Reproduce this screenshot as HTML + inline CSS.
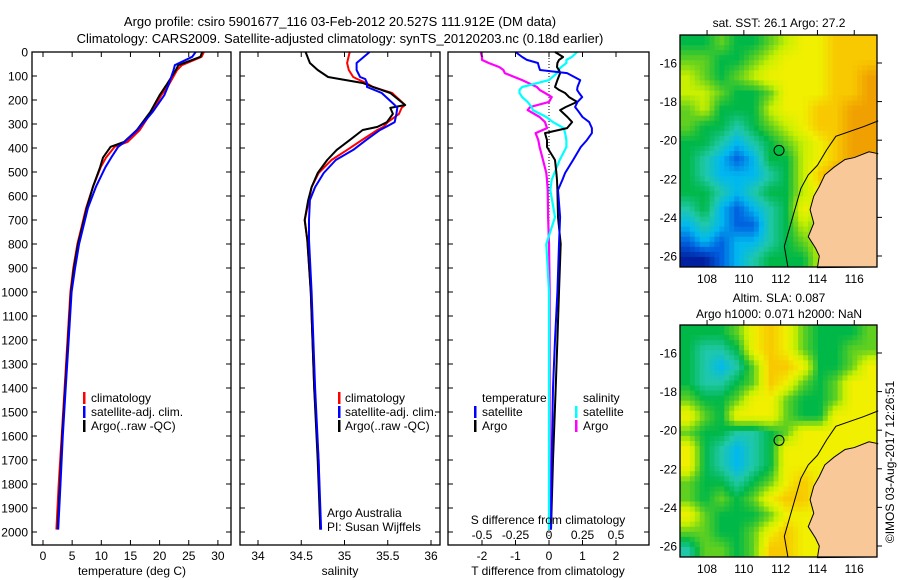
<!DOCTYPE html>
<html><head><meta charset="utf-8"><style>
html,body{margin:0;padding:0;background:#fff;}
svg{display:block;font-family:"Liberation Sans",sans-serif;}
</style></head><body>
<svg id="c" width="900" height="580" xmlns="http://www.w3.org/2000/svg">
<text x="340" y="26" font-size="13" text-anchor="middle">Argo profile: csiro 5901677_116 03-Feb-2012 20.527S 111.912E (DM data)</text>
<text x="340" y="43" font-size="13" text-anchor="middle">Climatology: CARS2009. Satellite-adjusted climatology: synTS_20120203.nc (0.18d earlier)</text>
<g id="p1"></g>
<g id="p2"></g>
<g id="p3"></g>
<g id="m1"></g>
<g id="m2"></g>
<text x="779" y="27" font-size="12" text-anchor="middle">sat. SST: 26.1 Argo: 27.2</text>
<text x="779" y="302" font-size="12" text-anchor="middle">Altim. SLA: 0.087</text>
<text x="779" y="318" font-size="12" text-anchor="middle">Argo h1000: 0.071 h2000: NaN</text>
<text transform="translate(894,462) rotate(-90)" font-size="12" text-anchor="middle">©IMOS 03-Aug-2017 12:26:51</text>
</svg>
<script>
// ---- data ----
const depthTicks = [0,100,200,300,400,500,600,700,800,900,1000,1100,1200,1300,1400,1500,1600,1700,1800,1900,2000];
const depthT = [0,20,55,75,140,180,250,325,375,395,440,480,560,650,730,800,900,1000,1200,1400,1600,1800,1990];
const argoT = [27.3,27,23.2,22.8,21.1,20,18.4,16.1,13.9,11.6,10.3,9.8,8.6,7.5,6.7,6.0,5.3,4.8,4.3,3.8,3.3,2.9,2.5];
const climT = [27.6,27.2,23.8,23,21.5,20.3,18.6,16.6,14.5,12.3,10.8,9.9,8.6,7.4,6.6,5.9,5.2,4.7,4.2,3.7,3.2,2.7,2.3];
const satT = [26.2,25.6,22.6,22.4,21.5,20.8,18.8,16.2,14,12.9,11.7,10.7,9.1,7.7,6.9,6.2,5.5,4.9,4.4,3.9,3.4,3.0,2.6];
const tempTicks = [0,5,10,15,20,25,30];

const depthS = [0,46,75,104,113,129,146,171,221,233,258,292,312,325,367,408,450,504,563,617,700,783,1000,1400,1700,1990];
const argoS = [34.55,34.6,34.69,34.81,34.95,35.21,35.33,35.53,35.70,35.53,35.56,35.49,35.38,35.21,35.06,34.91,34.80,34.69,34.62,34.58,34.54,34.57,34.61,34.65,34.69,34.72];
const climS = [35.06,35.03,35.05,35.1,35.15,35.25,35.33,35.55,35.70,35.66,35.63,35.5,35.45,35.38,35.2,35.03,34.85,34.7,34.62,34.59,34.54,34.57,34.61,34.65,34.70,34.72];
const satS = [35.29,35.14,35.14,35.18,35.24,35.26,35.26,35.43,35.58,35.61,35.6,35.58,35.48,35.41,35.25,35.1,34.9,34.76,34.66,34.60,34.59,34.59,34.62,34.66,34.70,34.73];
const salTicks = [34,34.5,35,35.5,36];

const depthD = [0,21,33,46,63,75,88,117,146,158,171,188,208,229,242,271,292,317,338,367,396,450,504,533,575,688,800,1000,1200,1400,1700,1990];
const satDT = [-1.0,-0.8,-0.66,-0.33,-0.3,-0.27,0.54,0.93,0.85,0.84,0.9,0.99,0.85,0.78,0.85,1.0,1.2,1.28,1.28,1.13,0.95,0.72,0.48,0.4,0.27,0.33,0.3,0.25,0.18,0.12,0.08,0.06];
const argoDT = [0.18,0.42,0.3,0.25,0.24,0.3,0.33,0.25,0.18,0.3,0.48,0.6,0.84,0.5,0.33,0.55,0.69,0.54,-0.12,-0.06,-0.06,0.18,0.22,0.24,0.25,0.27,0.35,0.3,0.25,0.2,0.12,0.06];
const satDS = [0.21,0.17,0.13,0.13,0.09,0.07,0.06,0.0,-0.2,-0.22,-0.22,-0.2,-0.16,-0.13,-0.12,-0.02,0.03,0.11,0.12,0.13,0.13,0.08,0.04,0.02,0.01,0.045,-0.02,0.0,0.0,0.0,0.0,0.0];
const argoDS = [-0.51,-0.5,-0.5,-0.45,-0.37,-0.34,-0.33,-0.2,-0.09,-0.07,-0.03,0.02,0.0,-0.14,-0.16,-0.07,-0.03,-0.015,-0.1,-0.08,-0.07,-0.045,-0.02,-0.015,-0.01,-0.007,0.0,0.005,0.005,0.005,0.005,0.005];
const diffTTicks = [-2,-1,0,1,2];
const diffSTicks = ['-0.5','-0.25','0','0.25','0.5'];

const latTicks = [-16,-18,-20,-22,-24,-26];
const lonTicks = [108,110,112,114,116];
const floatLon = 111.912, floatLat = -20.527;
const sstGrid = [
"GGgGGgYyyOOO",
"ggGGgYyyyOOO",
"YgGgYyyyyOOo",
"YYgGGgyyyOOo",
"gYGGGYyyOOoo",
"gGGTGgYyOOoo",
"GGTCTGgYyOoo",
"GTCBCGGYyOoo",
"GTCCCTGYOooR",
"GGTCTGGYyOoR",
"TGCBCTGyYyoR",
"CTCBBTGYgYoo",
"BCBCCTGgYyoo",
"DDBCTGGGYyoo"];
const slaGrid = [
"GGGgyOygGGGg",
"GTTGyOygGGgg",
"GTCTgOOyGGgy",
"GTTGgOygGgyy",
"gGGgyygGGgyy",
"ygGyyygGGyyy",
"gGGTTGgyyyyy",
"yGTCTGyyyyyy",
"yGTCTGyyyyyy",
"gGGTGgyOyyyy",
"gGgGgyOOyyyy",
"ygGGGgyyyyyy",
"ggGGgyOyyyyy",
"TggGgOOyyyyy"];
const levels = 'DBCTGgYyOoR';
const ramp = [[0,32,160],[0,96,224],[0,184,240],[32,200,168],[0,184,72],[96,208,32],[200,240,0],[240,240,0],[248,200,0],[240,160,0],[232,128,0]];
const coast = [[117.3,-20.7],[116.8,-20.6],[116,-20.9],[115.5,-21.0],[114.9,-21.4],[114.4,-21.8],[114.1,-22.4],[113.8,-22.9],[113.6,-23.6],[113.8,-24.3],[113.5,-25.0],[113.9,-25.6],[114.1,-26.0],[114.0,-26.6]];
const contour = [[117.3,-19],[116.5,-19.3],[115,-19.8],[114.5,-20.5],[114,-21.3],[113.5,-21.8],[113.1,-22.5],[112.8,-23.5],[112.5,-24.5],[112.2,-25.5],[112.4,-26.6]];

// ---- drawing ----
const NS='http://www.w3.org/2000/svg';
function mk(tag, attrs, parent){const e=document.createElementNS(NS,tag);for(const k in attrs)e.setAttribute(k,attrs[k]);parent.appendChild(e);return e;}
const Y0=52, Y1=545, dy=d=>52+d*0.24;

function frame(g,x0,x1,y0,y1,name){
  const r=mk('rect',{x:x0,y:y0,width:x1-x0,height:y1-y0,fill:'none',stroke:'#000','stroke-width':1.3},g);
  
  
}
function depthAxis(g,x0,x1,labels){
  depthTicks.forEach(d=>{
    const y=dy(d);
    const t1=mk('line',{x1:x0,x2:x0+5,y1:y,y2:y,stroke:'#000'},g);
    
    
    const t2=mk('line',{x1:x1-5,x2:x1,y1:y,y2:y,stroke:'#000'},g);
    
    
    if(labels){
      const t=mk('text',{x:x0-4,y:y+4.5,'font-size':12,'text-anchor':'end'},g);
      t.textContent=d;
      
      
    }
  });
}
function xTicks(g,vals,fx,labs,ly){
  vals.forEach((v,i)=>{
    const x=fx(v);
    const a=mk('line',{x1:x,x2:x,y1:Y0,y2:Y0+5,stroke:'#000'},g);
    
    
    const b=mk('line',{x1:x,x2:x,y1:Y1-5,y2:Y1,stroke:'#000'},g);
    
    
    const t=mk('text',{x:x,y:ly,'font-size':12,'text-anchor':'middle'},g);
    t.textContent=labs?labs[i]:v;
    
    
  });
}
function line(g,xs,ds,fx,color,w,name){
  const pts=xs.map((v,i)=>fx(v).toFixed(1)+','+dy(ds[i]).toFixed(1)).join(' ');
  const p=mk('polyline',{points:pts,fill:'none',stroke:color,'stroke-width':w,'stroke-linejoin':'round'},g);
  
  
}
function txt(g,x,y,s,name,anchor){
  const t=mk('text',{x:x,y:y,'font-size':12,'text-anchor':anchor||'start'},g);
  t.textContent=s;
  
  
}
function legendBar(g,x,y,color){
  const r=mk('rect',{x:x,y:y-10,width:2.5,height:12,fill:color},g);
  
  
}

// Panel 1
const p1=document.getElementById('p1');
const fT=v=>43+v*5.83;
line(p1,climT,depthT,fT,'#f00',2,'climatology-temperature-line');
line(p1,argoT,depthT,fT,'#000',2,'argo-temperature-line');
line(p1,satT,depthT,fT,'#00f',2,'satellite-temperature-line');
frame(p1,32,231,Y0,Y1,'temperature-plot-frame');
depthAxis(p1,32,231,true);
xTicks(p1,tempTicks,fT,null,560);
txt(p1,132,575,'temperature (deg C)','temperature-axis-title','middle');
[['#f00','climatology'],['#00f','satellite-adj. clim.'],['#000','Argo(..raw -QC)']].forEach((e,i)=>{legendBar(p1,83,402+i*14,e[0]);txt(p1,91,402+i*14,e[1],'legend-entry');});

// Panel 2
const p2=document.getElementById('p2');
const fS=v=>258+(v-34)*86.5;
line(p2,climS,depthS,fS,'#f00',2,'climatology-salinity-line');
line(p2,argoS,depthS,fS,'#000',2,'argo-salinity-line');
line(p2,satS,depthS,fS,'#00f',2,'satellite-salinity-line');
frame(p2,240,440,Y0,Y1,'salinity-plot-frame');
depthAxis(p2,240,440,false);
xTicks(p2,salTicks,fS,null,560);
txt(p2,340,575,'salinity','salinity-axis-title','middle');
[['#f00','climatology'],['#00f','satellite-adj. clim.'],['#000','Argo(..raw -QC)']].forEach((e,i)=>{legendBar(p2,338,402+i*14,e[0]);txt(p2,345,402+i*14,e[1],'legend-entry');});
txt(p2,327,517,'Argo Australia','credit-line-1');
txt(p2,327,531,'PI: Susan Wijffels','credit-line-2');

// Panel 3
const p3=document.getElementById('p3');
const fD=v=>549+v*33.5;
const fDS=v=>549+v*134;
const z=mk('line',{x1:549,x2:549,y1:Y0,y2:Y1,stroke:'#000','stroke-dasharray':'1,2'},p3);


line(p3,argoDS,depthD,fDS,'#f0f',2.2,'argo-salinity-diff-line');
line(p3,satDS,depthD,fDS,'#0ff',2.2,'satellite-salinity-diff-line');
line(p3,argoDT,depthD,fD,'#000',2,'argo-temperature-diff-line');
line(p3,satDT,depthD,fD,'#00f',2,'satellite-temperature-diff-line');
frame(p3,448,649,Y0,Y1,'difference-plot-frame');
depthAxis(p3,448,649,false);
xTicks(p3,diffTTicks,fD,null,560);
diffTTicks.forEach((v,i)=>{txt(p3,fD(v),539,diffSTicks[i],'s-tick-label','middle');});
txt(p3,548,524,'S difference from climatology','s-axis-title','middle');
txt(p3,548,575,'T difference from climatology','t-axis-title','middle');
txt(p3,482,402,'temperature','legend-header-temperature');
txt(p3,583,402,'salinity','legend-header-salinity');
legendBar(p3,474,416,'#00f');txt(p3,482,416,'satellite','legend-entry');
legendBar(p3,474,430,'#000');txt(p3,482,430,'Argo','legend-entry');
legendBar(p3,575,416,'#0ff');txt(p3,583,416,'satellite','legend-entry');
legendBar(p3,575,430,'#f0f');txt(p3,583,430,'Argo','legend-entry');

// Maps
function colorAt(v){
  v=Math.max(0,Math.min(ramp.length-1,v));
  const i=Math.min(ramp.length-2,Math.floor(v)), f=v-i;
  const c=ramp[i].map((a,k)=>Math.round(a+(ramp[i+1][k]-a)*f));
  return 'rgb('+c.join(',')+')';
}
function sample(grid,gx,gy){
  const rows=grid.length, cols=grid[0].length;
  gx=Math.max(0,Math.min(cols-1,gx)); gy=Math.max(0,Math.min(rows-1,gy));
  const x0=Math.floor(gx), y0=Math.floor(gy), x1=Math.min(cols-1,x0+1), y1=Math.min(rows-1,y0+1);
  const fx=gx-x0, fy=gy-y0, L=(r,c)=>levels.indexOf(grid[r][c]);
  return L(y0,x0)*(1-fx)*(1-fy)+L(y0,x1)*fx*(1-fy)+L(y1,x0)*(1-fx)*fy+L(y1,x1)*fx*fy;
}
function drawMap(g,top,grid,fillCircle){
  const x0=680,x1=877,y1=top+232;
  const fx=lon=>680+(lon-106.53)*18.4, fy=lat=>top+(-14.55-lat)*19.3;
  const rows=grid.length, cols=grid[0].length;
  const NX=40, NY=46, cw=(x1-x0)/NX, ch=232/NY;
  for(let r=0;r<NY;r++){for(let c=0;c<NX;c++){
    const v=sample(grid,(c+0.5)/NX*cols-0.5,(r+0.5)/NY*rows-0.5);
    const cell=mk('rect',{x:(x0+c*cw).toFixed(2),y:(top+r*ch).toFixed(2),width:(cw+0.5).toFixed(2),height:(ch+0.5).toFixed(2),fill:colorAt(v)},g);
    
    
  }}
  const land=coast.map(p=>fx(p[0])+','+fy(p[1])).concat([x1+','+y1,x1+','+fy(-20.7)]).join(' ');
  const lp=mk('polygon',{points:land,fill:'#f8c898',stroke:'#000','stroke-width':1},g);
  
  
  const cp=mk('polyline',{points:contour.map(p=>fx(p[0])+','+fy(p[1])).join(' '),fill:'none',stroke:'#000','stroke-width':1},g);
  
  
  const ci=mk('circle',{cx:fx(floatLon),cy:fy(floatLat),r:5,fill:fillCircle,stroke:'#000','stroke-width':1},g);
  
  
  frame(g,x0,x1,top,y1,'map-frame');
  latTicks.forEach(l=>{const y=fy(l);
    const t=mk('line',{x1:x1,x2:x1+5,y1:y,y2:y,stroke:'#000'},g);
    
    
    txt(g,677,y+4.5,String(l),'lat-tick-label','end');});
  lonTicks.forEach(l=>{const x=fx(l);
    const t=mk('line',{x1:x,x2:x,y1:top-5,y2:top,stroke:'#000'},g);
    
    
    txt(g,x,y1+16,String(l),'lon-tick-label','middle');});
}
drawMap(document.getElementById('m1'),35,sstGrid,'#00c040');
drawMap(document.getElementById('m2'),325,slaGrid,'none');
</script>
</body></html>
